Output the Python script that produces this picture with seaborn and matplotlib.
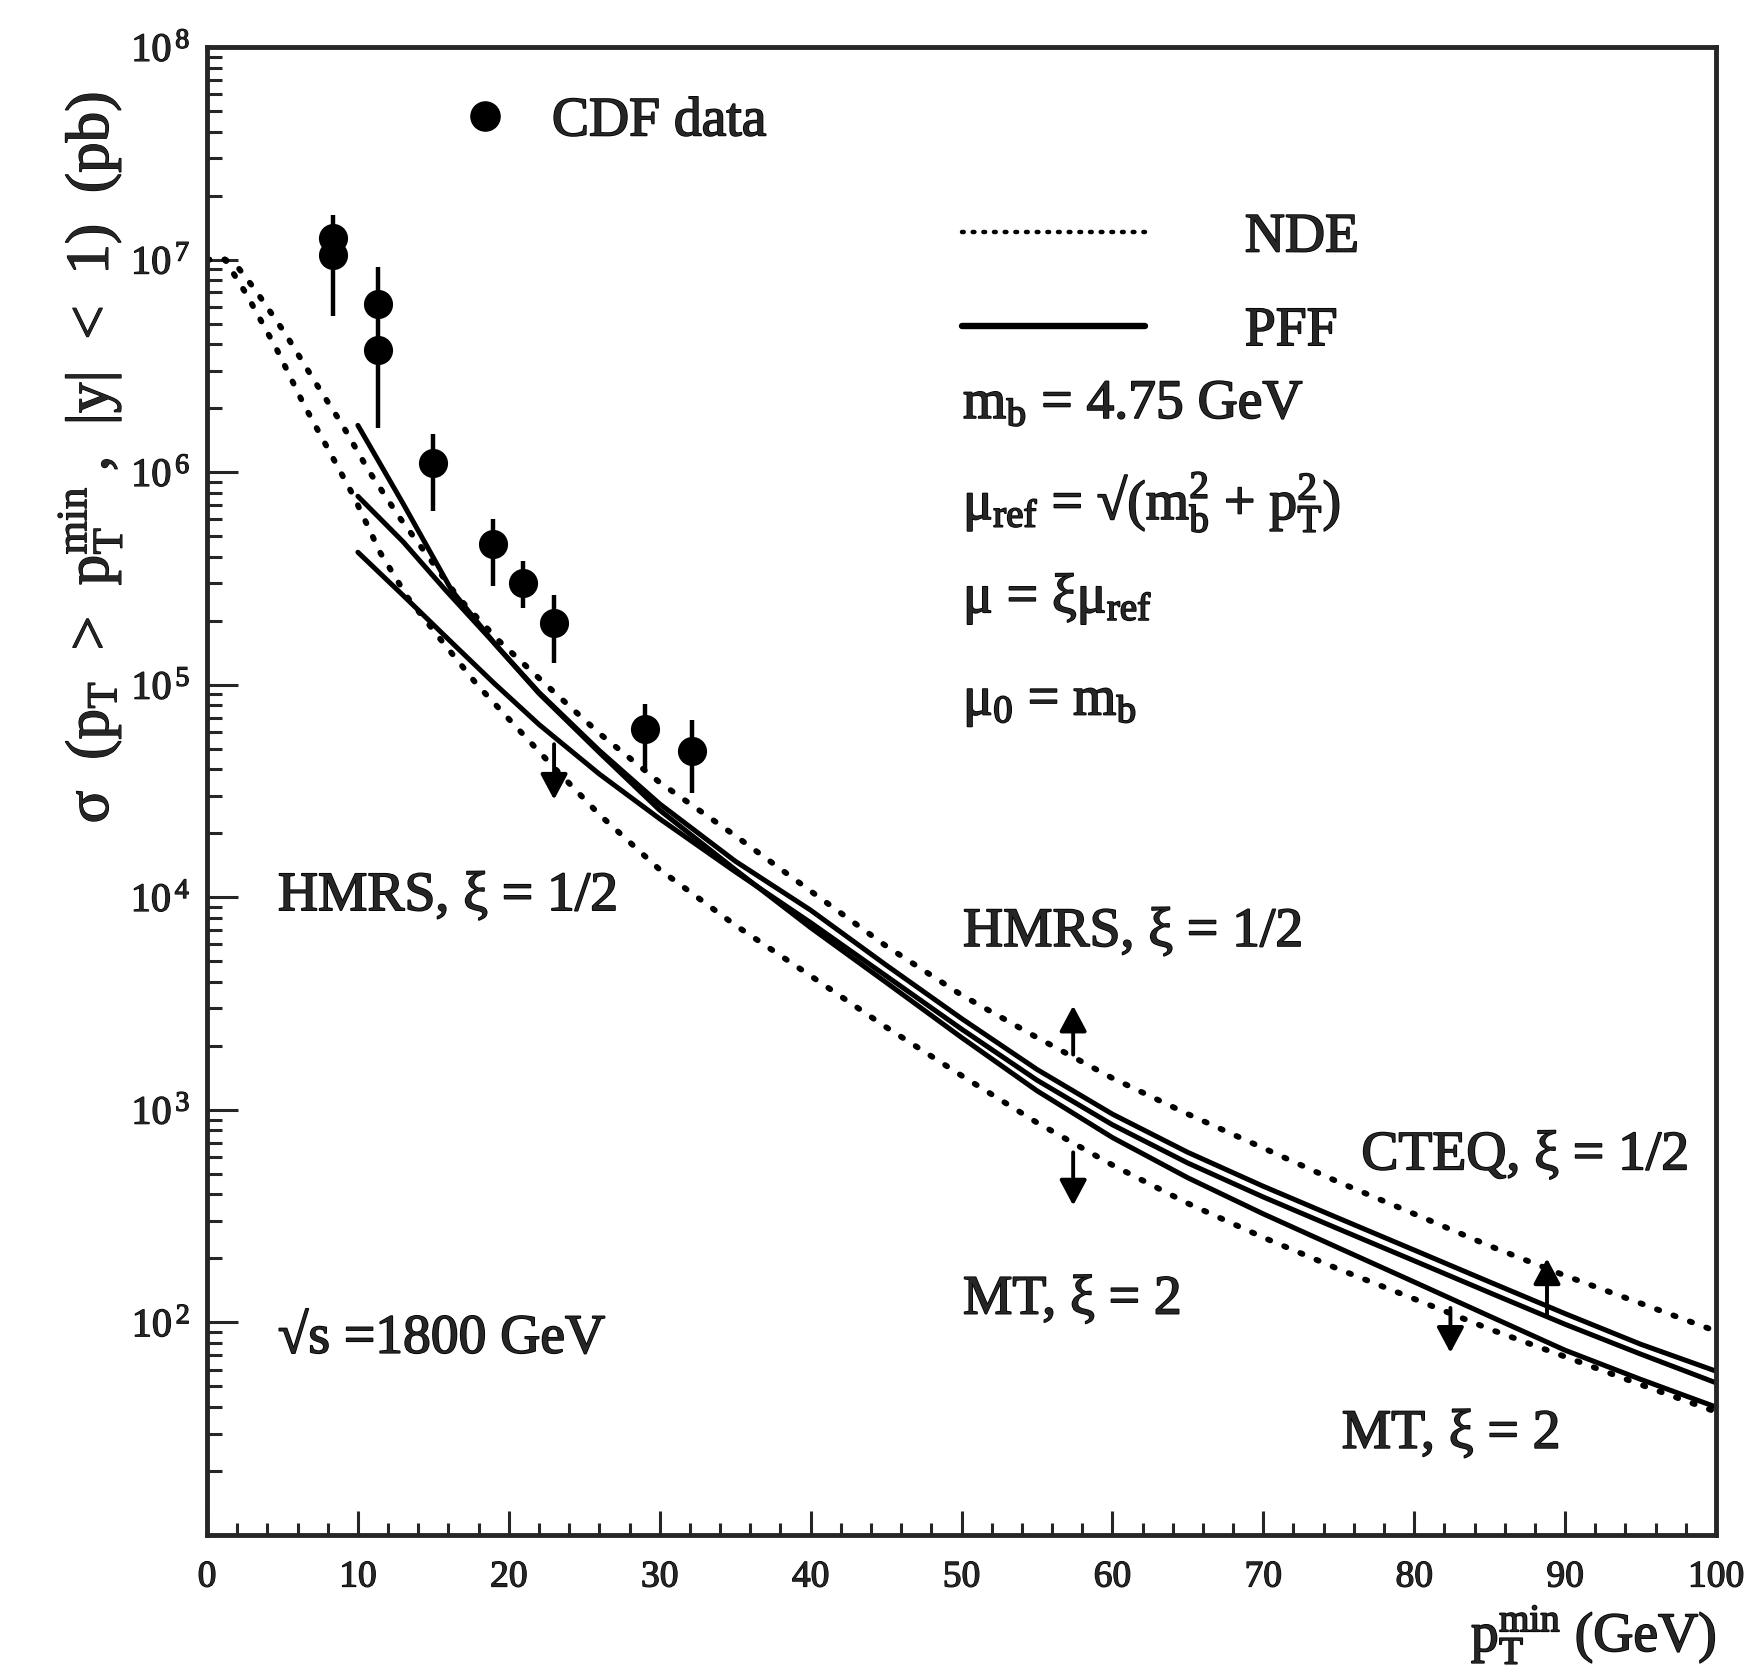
import matplotlib
matplotlib.use("Agg")
import matplotlib.pyplot as plt
from matplotlib.lines import Line2D
from matplotlib.patches import ArrowStyle
import matplotlib.patheffects as pe
import seaborn as sns
import pandas as pd

# ---------------- data ----------------
cdf_pt = [8.33, 8.33, 11.31, 11.31, 14.96, 18.97, 20.92, 23.0, 29.03, 32.12]
cdf_sigma = [1.26e7, 1.05e7, 6.2e6, 3.76e6, 1.10e6, 4.57e5, 3.02e5, 1.95e5, 6.2e4, 4.9e4]
cdf_err_low = [1.07e7, 5.4e6, 4.9e6, 1.62e6, 6.6e5, 2.9e5, 2.29e5, 1.26e5, 3.9e4, 3.1e4]
cdf_err_high = [1.62e7, 1.23e7, 9.2e6, 4.9e6, 1.51e6, 6.0e5, 3.8e5, 2.63e5, 8.1e4, 6.8e4]

nde_upper_pt = [0, 1.2, 2.1, 3.2, 5.2, 7.2, 8.9, 10.7, 12.7, 16.65, 19.3, 22.6, 26, 30, 35,
                40, 45, 50, 55, 60, 65, 70, 75, 80, 85, 90, 95, 100]
nde_upper_sigma = [1.0e7, 1.0e7, 9.1e6, 7.2e6, 4.47e6, 2.63e6, 1.70e6, 1.02e6, 6.2e5, 2.57e5,
                   1.62e5, 9.8e4, 5.9e4, 3.47e4, 1.95e4, 1.07e4, 5.9e3, 3.47e3, 2.19e3,
                   1.41e3, 955, 661, 457, 324, 229, 166, 123, 91]

nde_lower_pt = [0, 1.2, 1.8, 2.65, 4.64, 6.4, 8.17, 9.72, 11.49, 13.3, 15.4, 17.9, 20, 23, 26,
                30, 35, 40, 45, 50, 55, 60, 65, 70, 75, 80, 85, 90, 95, 100]
nde_lower_sigma = [1.0e7, 1.0e7, 8.5e6, 6.8e6, 3.76e6, 2.09e6, 1.23e6, 7.7e5, 4.17e5, 2.57e5,
                   1.66e5, 1.0e5, 6.9e4, 4.07e4, 2.45e4, 1.35e4, 7.4e3, 4.27e3, 2.45e3,
                   1.45e3, 871, 550, 363, 251, 178, 129, 93, 69, 51, 38]

pff1_pt = [10, 13, 16.2, 19.1, 22, 26, 30, 35, 40, 45, 50, 55, 60, 65, 70, 75, 80, 85, 90,
           95, 100]
pff1_sigma = [1.66e6, 7.1e5, 2.79e5, 1.55e5, 9.1e4, 4.8e4, 2.57e4, 1.35e4, 7.2e3, 3.98e3,
              2.19e3, 1.23e3, 741, 479, 324, 224, 155, 107, 74, 54, 40]

pff2_pt = [10, 13, 15.8, 19.1, 22, 26, 30, 35, 40, 45, 50, 55, 60, 65, 70, 75, 80, 85, 90,
           95, 100]
pff2_sigma = [7.7e5, 4.7e5, 2.79e5, 1.55e5, 9.2e4, 4.9e4, 2.75e4, 1.48e4, 8.7e3, 4.8e3,
              2.69e3, 1.55e3, 955, 631, 437, 309, 219, 155, 110, 79, 59]

pff3_pt = [10, 13, 16.5, 19, 22, 26, 30, 35, 40, 45, 50, 55, 60, 65, 70, 75, 80, 85, 90,
           95, 100]
pff3_sigma = [4.2e5, 2.63e5, 1.51e5, 1.02e5, 6.5e4, 3.8e4, 2.34e4, 1.32e4, 7.6e3, 4.27e3,
              2.4e3, 1.38e3, 851, 562, 389, 275, 195, 138, 98, 71, 52]

x_ticks = [0, 10, 20, 30, 40, 50, 60, 70, 80, 90, 100]
x_tick_labels = ["0", "10", "20", "30", "40", "50", "60", "70", "80", "90", "100"]
y_ticks = [1e1, 1e2, 1e3, 1e4, 1e5, 1e6, 1e7, 1e8]
y_tick_labels = ["", r"10$^{\,2}$", r"10$^{\,3}$", r"10$^{\,4}$", r"10$^{\,5}$",
                 r"10$^{\,6}$", r"10$^{\,7}$", r"10$^{\,8}$"]

# annotation arrows: x, tail, head
arrow_x = [23.0, 57.4, 57.4, 88.8, 82.4]
arrow_tail = [5.25e4, 1.82e3, 631, 107, 117]
arrow_head = [2.88e4, 3.09e3, 355, 200, 72]

# free text labels
label_texts = ["HMRS, ξ = 1/2", "HMRS, ξ = 1/2", "CTEQ, ξ = 1/2", "MT, ξ = 2", "MT, ξ = 2",
               "√s =1800 GeV", r"m$_{\rm b}$ = 4.75 GeV",
               r"μ$_{\rm ref}$ = √(m$_{\rm b}^{\rm 2}$ + p$_{\rm T}^{\rm 2}$)",
               r"μ = ξμ$_{\rm ref}$", r"μ$_{\rm 0}$ = m$_{\rm b}$"]
label_x = [4.7, 50.1, 76.5, 50.1, 75.2, 4.7, 50.1, 50.1, 50.1, 50.1]
label_y = [8.7e3, 5.9e3, 525, 110, 25.7, 72, 1.79e6, 6.0e5, 2.19e5, 7.2e4]

# ---------------- style ----------------
sns.set_style("ticks")
plt.rcParams["font.family"] = ["Liberation Serif", "DejaVu Serif"]
plt.rcParams["mathtext.fontset"] = "custom"
plt.rcParams["mathtext.rm"] = "Liberation Serif"
plt.rcParams["mathtext.it"] = "Liberation Serif:italic"
plt.rcParams["mathtext.bf"] = "Liberation Serif:bold"

heavy = [pe.withStroke(linewidth=1.2, foreground="black")]
heavy_small = [pe.withStroke(linewidth=0.9, foreground="black")]

W, H = 1753, 1679
fig = plt.figure(figsize=(W / 100, H / 100), dpi=100)
ax = fig.add_axes([207 / W, 144 / H, 1509 / W, 1488 / H])

dot_style = (0, (0.4, 2.6))
lw_dot = 4.2
lw_solid = 3.6

for pts, sig in [(nde_upper_pt, nde_upper_sigma), (nde_lower_pt, nde_lower_sigma)]:
    sns.lineplot(x=pts, y=sig, ax=ax, color="black", lw=lw_dot, linestyle=dot_style,
                 dash_capstyle="round", sort=False, estimator=None)
for pts, sig in [(pff1_pt, pff1_sigma), (pff2_pt, pff2_sigma), (pff3_pt, pff3_sigma)]:
    sns.lineplot(x=pts, y=sig, ax=ax, color="black", lw=lw_solid, sort=False, estimator=None)

cdf = pd.DataFrame({"pt": cdf_pt, "sigma": cdf_sigma, "lo": cdf_err_low, "hi": cdf_err_high})
ax.errorbar(cdf["pt"], cdf["sigma"],
            yerr=[cdf["sigma"] - cdf["lo"], cdf["hi"] - cdf["sigma"]],
            fmt="none", ecolor="black", elinewidth=3.2, capsize=0)
sns.scatterplot(data=cdf, x="pt", y="sigma", ax=ax, color="black", s=440,
                edgecolor="black", linewidth=0, zorder=5)

ax.set_yscale("log")
ax.set_xlim(0, 100)
ax.set_ylim(1e1, 1e8)

ax.set_xticks(x_ticks)
ax.set_xticklabels(x_tick_labels)
ax.set_xticks(list(range(0, 101, 2)), minor=True)
ax.set_yticks(y_ticks)
ax.set_yticklabels(y_tick_labels)

ax.tick_params(axis="x", which="major", direction="in", length=17, width=2.2,
               labelsize=27, pad=18, top=False)
ax.tick_params(axis="x", which="minor", direction="in", length=9, width=2.2, top=False)
ax.tick_params(axis="y", which="major", direction="in", length=22, width=2.2,
               labelsize=29, pad=12, right=False)
ax.tick_params(axis="y", which="minor", direction="in", length=11, width=2.2,
               right=False, labelleft=False)
for lab in ax.get_xticklabels() + ax.get_yticklabels():
    lab.set_path_effects(heavy_small)
for sp in ax.spines.values():
    sp.set_linewidth(3.5)
    sp.set_visible(True)

xl = ax.set_xlabel(r"p$_{\rm T}^{\rm min}$ (GeV)", fontsize=40, loc="right")
xl.set_path_effects(heavy)
ax.xaxis.set_label_coords(1.0, -0.045)
yl = ax.set_ylabel(r"σ  (p$_{\rm T}$  >  p$_{\rm T}^{\rm min}$ ,  |y|  <  1)  (pb)", fontsize=44)
yl.set_path_effects(heavy_small)
ax.yaxis.set_label_coords(-0.055, 0.724)

for txt, tx, ty in zip(label_texts, label_x, label_y):
    t = ax.text(tx, ty, txt, fontsize=40, ha="left", va="baseline")
    t.set_path_effects(heavy)

astyle = ArrowStyle("-|>", head_length=0.6, head_width=0.32)
for x, t, h in zip(arrow_x, arrow_tail, arrow_head):
    ax.annotate("", xy=(x, h), xytext=(x, t),
                arrowprops=dict(arrowstyle=astyle, color="black", lw=2.8,
                                mutation_scale=26, shrinkA=0, shrinkB=0))

# legends
cdf_handle = Line2D([], [], linestyle="none", marker="o", markersize=21, color="black")
leg1 = ax.legend([cdf_handle], ["CDF data"], loc="center left", bbox_to_anchor=(0.166, 0.95),
                 frameon=False, fontsize=40, handlelength=1.0, handletextpad=0.7,
                 borderpad=0, borderaxespad=0)
for t in leg1.get_texts():
    t.set_path_effects(heavy)
ax.add_artist(leg1)
nde_handle = Line2D([], [], color="black", lw=3.2, linestyle=(0, (0.4, 2.0)),
                    dash_capstyle="round")
pff_handle = Line2D([], [], color="black", lw=lw_solid + 1)
leg2 = ax.legend([nde_handle, pff_handle], ["NDE", "PFF"], loc="center left",
                 bbox_to_anchor=(0.5, 0.8405), frameon=False, fontsize=40, handlelength=3.3,
                 handletextpad=1.8, labelspacing=0.75, borderpad=0, borderaxespad=0)
for t in leg2.get_texts():
    t.set_path_effects(heavy)

fig.savefig("out.png", dpi=100, facecolor="white")
